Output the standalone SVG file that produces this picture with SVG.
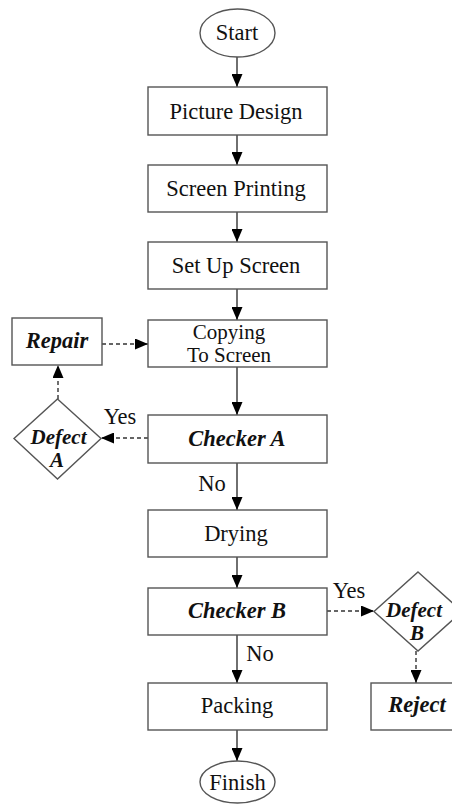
<svg xmlns="http://www.w3.org/2000/svg" width="452" height="804" viewBox="0 0 452 804">
<style>
.box{fill:#fff;stroke:#555;stroke-width:1.4}
.t{font-family:"Liberation Serif","Times New Roman",serif;font-size:22.5px;fill:#111;text-anchor:middle}
.s{font-size:21px}
.bi{font-weight:bold;font-style:italic}
.c{fill:none;stroke:#333;stroke-width:1.4}
.d{stroke-dasharray:4 3}
</style>
<defs>
<marker id="ah" viewBox="0 0 13 11" refX="13" refY="5.5" markerWidth="13" markerHeight="11" orient="auto" markerUnits="userSpaceOnUse">
<path d="M0,0 L13,5.5 L0,11 Z" fill="#000"/>
</marker>
</defs>
<rect width="452" height="804" fill="#fff"/>
<g id="connectors">
<line class="c" x1="237" y1="57" x2="237" y2="87" marker-end="url(#ah)"/>
<line class="c" x1="237" y1="135" x2="237" y2="165" marker-end="url(#ah)"/>
<line class="c" x1="237" y1="212" x2="237" y2="242" marker-end="url(#ah)"/>
<line class="c" x1="237" y1="289" x2="237" y2="320" marker-end="url(#ah)"/>
<line class="c" x1="237" y1="367" x2="237" y2="415" marker-end="url(#ah)"/>
<line class="c" x1="237" y1="463" x2="237" y2="510" marker-end="url(#ah)"/>
<line class="c" x1="237" y1="557" x2="237" y2="588" marker-end="url(#ah)"/>
<line class="c" x1="237" y1="635" x2="237" y2="683" marker-end="url(#ah)"/>
<line class="c" x1="237" y1="730" x2="237" y2="761" marker-end="url(#ah)"/>
<line class="c d" x1="148" y1="438" x2="101" y2="438" marker-end="url(#ah)"/>
<line class="c d" x1="58" y1="399" x2="58" y2="365" marker-end="url(#ah)"/>
<line class="c d" x1="102" y1="344" x2="148" y2="344" marker-end="url(#ah)"/>
<line class="c d" x1="327" y1="611" x2="374" y2="611" marker-end="url(#ah)"/>
<line class="c d" x1="416" y1="651" x2="416" y2="683" marker-end="url(#ah)"/>
<text class="t" x="120" y="424">Yes</text>
<text class="t" x="212" y="491">No</text>
<text class="t" x="349" y="598">Yes</text>
<text class="t" x="260" y="661">No</text>
</g>
<g id="start"><ellipse class="box" cx="237.5" cy="33" rx="37.5" ry="24"/><text class="t" x="237" y="40">Start</text></g>
<g id="picture-design"><rect class="box" x="148" y="87" width="179" height="48"/><text class="t" x="236" y="118.5">Picture Design</text></g>
<g id="screen-printing"><rect class="box" x="148" y="165" width="179" height="47"/><text class="t" x="236" y="196">Screen Printing</text></g>
<g id="set-up-screen"><rect class="box" x="148" y="242" width="179" height="47"/><text class="t" x="236" y="273">Set Up Screen</text></g>
<g id="copying"><rect class="box" x="148" y="320" width="179" height="47"/><text class="t s" x="229" y="339">Copying</text><text class="t s" x="229" y="362">To Screen</text></g>
<g id="checker-a"><rect class="box" x="148" y="415" width="179" height="48"/><text class="t bi" x="237" y="446">Checker A</text></g>
<g id="drying"><rect class="box" x="148" y="510" width="179" height="47"/><text class="t" x="236" y="541">Drying</text></g>
<g id="checker-b"><rect class="box" x="148" y="588" width="179" height="47"/><text class="t bi" x="237" y="618">Checker B</text></g>
<g id="packing"><rect class="box" x="148" y="683" width="179" height="47"/><text class="t" x="237" y="713">Packing</text></g>
<g id="finish"><ellipse class="box" cx="237.5" cy="782" rx="37.5" ry="21"/><text class="t" x="237.5" y="790">Finish</text></g>
<g id="repair"><rect class="box" x="12" y="318" width="90" height="47"/><text class="t bi" x="57" y="348">Repair</text></g>
<g id="defect-a"><polygon class="box" points="57.5,399 101,438.5 57.5,479 14,438.5"/><text class="t bi s" x="58.5" y="444">Defect</text><text class="t bi s" x="57" y="467">A</text></g>
<g id="defect-b"><polygon class="box" points="418,572 462,611.5 418,651 374,611.5"/><text class="t bi s" x="414" y="617">Defect</text><text class="t bi s" x="417" y="640">B</text></g>
<g id="reject"><rect class="box" x="371" y="683" width="92" height="47"/><text class="t bi" x="417" y="712">Reject</text></g>
</svg>
